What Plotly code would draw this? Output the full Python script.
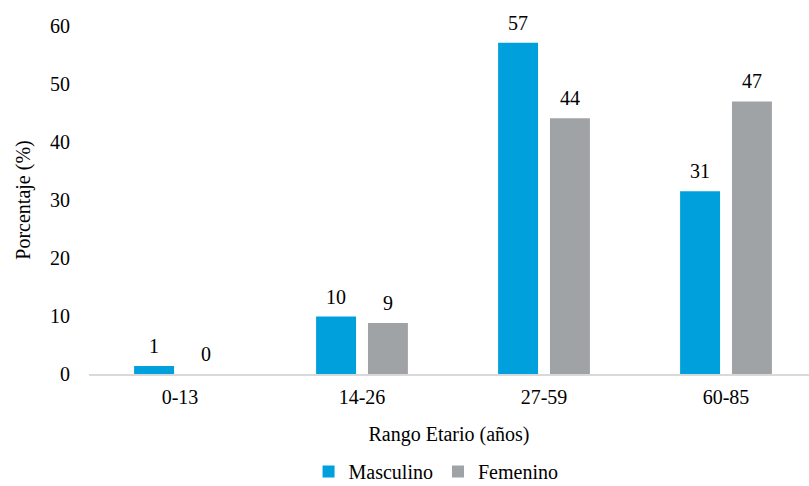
import plotly.graph_objects as go

categories = ["0-13", "14-26", "27-59", "60-85"]
masculino = [1.4, 9.9, 57.1, 31.5]
femenino = [0.0, 8.8, 44.1, 47.0]
masculino_labels = ["1", "10", "57", "31"]
femenino_labels = ["0", "9", "44", "47"]
y_ticks = [0, 10, 20, 30, 40, 50, 60]

FONT = "Liberation Serif"
BLUE = "#00A0DC"
GRAY = "#A0A3A6"
BARGAP = 0.43
GROUPGAP = 0.23

fig = go.Figure()
fig.add_trace(go.Bar(
    x=categories, y=masculino, name="Masculino",
    marker=dict(color=BLUE, line=dict(width=0)),
))
fig.add_trace(go.Bar(
    x=categories, y=femenino, name="Femenino",
    marker=dict(color=GRAY, line=dict(width=0)),
))

# value labels placed at each bar's top through the data axes
x_min, x_max = -0.5, 3.456
plot_w = 809 - 89
px_per_cat = plot_w / (x_max - x_min)
slot_px = px_per_cat * (1 - BARGAP) / 2
for vals, labels, sign in ((masculino, masculino_labels, -1), (femenino, femenino_labels, 1)):
    for c, v, t in zip(categories, vals, labels):
        fig.add_annotation(
            x=c, y=v, xref="x", yref="y", text=t, showarrow=False,
            xshift=sign * slot_px / 2, yshift=20, yanchor="middle",
            font=dict(family=FONT, size=20, color="#000000"),
        )

fig.update_layout(
    width=809, height=486,
    margin=dict(l=89, r=0, t=26, b=112, autoexpand=False),
    paper_bgcolor="white", plot_bgcolor="white",
    barmode="group", bargap=BARGAP, bargroupgap=GROUPGAP,
    font=dict(family=FONT, size=20, color="#000000"),
    showlegend=True,
    legend=dict(orientation="h", xref="container", x=0.539, xanchor="center",
                yref="container", y=0.07, yanchor="top",
                font=dict(family=FONT, size=20, color="#000000"),
                itemwidth=30, traceorder="normal"),
    xaxis=dict(
        range=[x_min, x_max],
        showline=True, linecolor="#D9D9D9", linewidth=2,
        ticks="", showgrid=False,
        ticklabelstandoff=4,
        tickfont=dict(family=FONT, size=20, color="#000000"),
        title=dict(text="Rango Etario (años)", standoff=20,
                   font=dict(family=FONT, size=20, color="#000000")),
    ),
    yaxis=dict(
        range=[0, 60], tickvals=y_ticks,
        showline=False, showgrid=False, zeroline=False, ticks="",
        ticklabelstandoff=18,
        tickfont=dict(family=FONT, size=20, color="#000000"),
        title=dict(text="Porcentaje (%)", standoff=14,
                   font=dict(family=FONT, size=20, color="#000000")),
    ),
)

fig.write_html("out.html")
